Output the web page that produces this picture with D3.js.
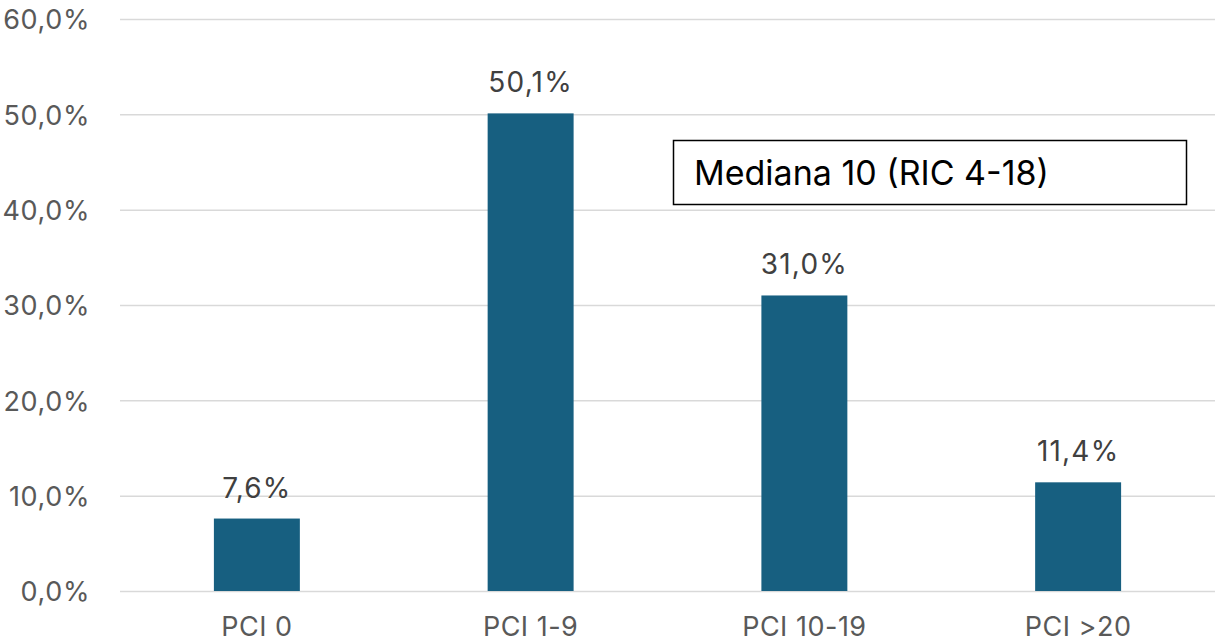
<!DOCTYPE html>
<html><head><meta charset="utf-8">
<script src="https://cdn.jsdelivr.net/npm/d3@7"></script>
<style>
html,body{margin:0;padding:0;background:#fff;}
svg{display:block;font-family:Inter, Roboto, sans-serif;}
</style></head>
<body>
<svg id="chart" width="1217" height="643"></svg>
<script>
const categories = ["PCI 0", "PCI 1-9", "PCI 10-19", "PCI >20"];
const values = [7.6, 50.1, 31.0, 11.4];
const yTicks = [0, 10, 20, 30, 40, 50, 60];
const annotation = "Mediana 10 (RIC 4-18)";

const fmt = v => v.toFixed(1).replace(".", ",") + "%";
const svg = d3.select("#chart");
const mLeft = 120, mRight = 1215, mTop = 19, mBottom = 591;

const x = d3.scaleBand().domain(categories).range([mLeft, mRight]).paddingInner(0.686).paddingOuter(0.343);
const y = d3.scaleLinear().domain([0, 60]).range([mBottom, mTop]);

// gridlines
svg.append("g").selectAll("line").data(yTicks).join("line")
  .attr("x1", mLeft).attr("x2", mRight)
  .attr("y1", d => y(d) + 0.5).attr("y2", d => y(d) + 0.5)
  .attr("stroke", "#d9d9d9").attr("stroke-width", 1.5);

// y axis labels
const yAxis = d3.axisLeft(y).tickValues(yTicks).tickFormat(fmt).tickSize(0).tickPadding(0);
const ya = svg.append("g").attr("transform", `translate(90,0)`).call(yAxis);
ya.select(".domain").remove();
ya.selectAll("text").attr("font-size", 27).attr("fill", "#595959")
  .attr("font-family", "Inter, Roboto, sans-serif").attr("letter-spacing", "0.6px").attr("dy", "0.36em");

// bars
svg.append("g").selectAll("rect").data(values).join("rect")
  .attr("x", (d, i) => x(categories[i]))
  .attr("width", x.bandwidth())
  .attr("y", d => y(d))
  .attr("height", d => y(0) - y(d))
  .attr("fill", "#175f80");

// value labels
svg.append("g").selectAll("text").data(values).join("text")
  .attr("x", (d, i) => x(categories[i]) + x.bandwidth() / 2)
  .attr("y", d => y(d) - 21)
  .attr("text-anchor", "middle")
  .attr("font-size", 28).attr("fill", "#404040").attr("letter-spacing", "1.2px")
  .text(fmt);

// x axis labels
const xAxis = d3.axisBottom(x).tickSize(0).tickPadding(0);
const xa = svg.append("g").attr("transform", `translate(0,${mBottom})`).call(xAxis);
xa.select(".domain").remove();
xa.selectAll("text").attr("font-size", 27).attr("fill", "#595959").attr("letter-spacing", "0.5px")
  .attr("font-family", "Inter, Roboto, sans-serif").attr("dy", null).attr("y", 45);

// annotation box
const box = svg.append("g");
box.append("rect").attr("x", 673.5).attr("y", 140.5).attr("width", 513).attr("height", 64)
  .attr("fill", "#fff").attr("stroke", "#000").attr("stroke-width", 1.5);
box.append("text").attr("x", 694).attr("y", 185).attr("font-size", 34).attr("fill", "#000")
  .text(annotation);
</script>
</body></html>
